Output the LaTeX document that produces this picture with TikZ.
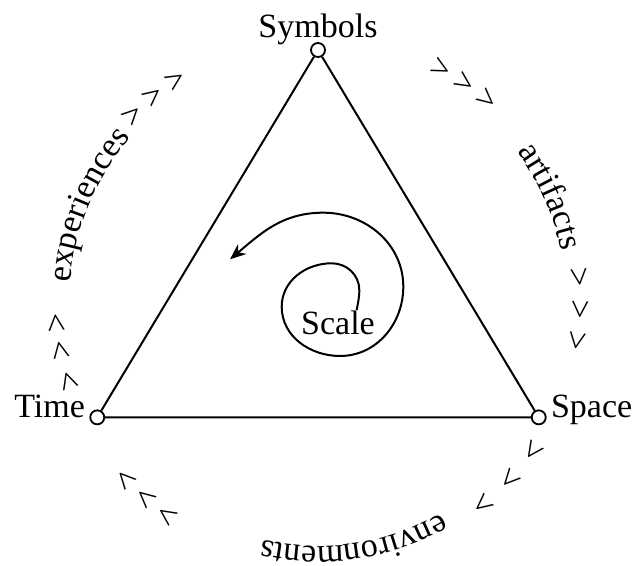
\documentclass[tikz,border=0pt]{standalone}
\usepackage{fontspec}
\setmainfont{Liberation Serif}
\usetikzlibrary{calc,arrows.meta,decorations.text}

\begin{document}
\begin{tikzpicture}[
      x=0.5pt, y=0.5pt,
      execute at begin picture={\fontsize{17}{20}\selectfont},
      vertex/.style={circle, draw, line width=0.9pt, fill=white, inner sep=0pt,
                     minimum size=7pt},
      lbl/.style={inner sep=2pt},
      chev/.style={inner sep=0pt},
      side/.style={line width=1pt},
      along/.style={decorate, decoration={text along path, text={#1},
                    text align=center}}]
    \useasboundingbox (0,0) rectangle (638,566);
    \coordinate (o) at (318,266);
    % triangle
    \node[vertex] (sym)   at ($(o)+(90:250)$)  {};
    \node[vertex] (time)  at ($(o)+(208:250)$) {};
    \node[vertex] (space) at ($(o)+(-28:250)$) {};
    \draw[side] (sym) -- (space) -- (time) -- (sym);
    \node[lbl, anchor=base]      (symlbl)   at ([yshift=2.5pt]sym.north) {Symbols};
    \node[lbl, anchor=base east] (timelbl)  at (time.west)  {Time};
    \node[lbl, anchor=base west] (spacelbl) at (space.east) {Space};
    % spiral
    \node[lbl, anchor=base] (scale) at (338,231) {Scale};
    \coordinate (tip) at (230,306.7);
    \draw[side, -{Stealth[length=8pt, width=6.5pt]}]
      (356.7,256) to[out=80, in=270] (359.3,276) to[out=90, in=0] (331.7,302.7)
      to[out=180, in=90] (281.7,259.3) to[out=270, in=180] (340,210)
      to[out=0, in=270] (403.3,279.3) to[out=90, in=0] (323.3,353.3)
      to[out=180, in=40] (tip);
    % words round the circle
    \path[along=experiences]  ($(o)+(190:248)$) arc[start angle=190, end angle=125, radius=248];
    \path[along=artifacts]    ($(o)+(57:248)$)  arc[start angle=57,  end angle=-9,  radius=248];
    \path[along=environments] ($(o)+(311:246)$) arc[start angle=311, end angle=246, radius=246];
    \foreach \a [count=\i] in {135,129,123,62,56,50,5,-2,-9,-35,-43,-51,235,229,223,198,191,185}
      \node[chev, rotate=\a-90] (chev\i) at ($(o)+(\a:261)$) {>};
  \end{tikzpicture}
\end{document}
